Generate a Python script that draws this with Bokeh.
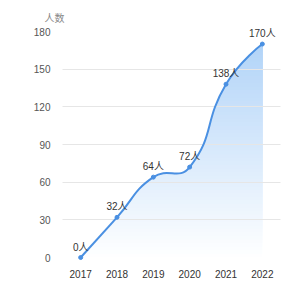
import numpy as np
from bokeh.plotting import figure
from bokeh.models import Range1d, FixedTicker
from bokeh.core.properties import value
from bokeh.embed import file_html
from bokeh.resources import INLINE

# ---- data ----
years = [2017, 2018, 2019, 2020, 2021, 2022]
people = [0, 32, 64, 72, 138, 170]
y_ticks = [0, 30, 60, 90, 120, 150, 180]
unit = "人"
y_title = "人数"

# ---- style ----
W, H = 308, 299
L, R, T, B = 62, 28, 31, 42
FONT = "Liberation Sans, Noto Sans CJK SC"
LINE = "#4a90e2"
TOP_RGB = (178, 212, 248)

x0, x1 = years[0] - 0.5, years[-1] + 0.5
y0, y1 = y_ticks[0], y_ticks[-1]

p = figure(width=W, height=H, output_backend="svg", toolbar_location=None,
           x_range=Range1d(x0, x1), y_range=Range1d(y0, y1),
           min_border_left=L, min_border_right=R, min_border_top=T,
           min_border_bottom=B, title=y_title)
p.outline_line_color = None
p.background_fill_color = "white"
p.border_fill_color = "white"
p.title.align = "left"
p.title.offset = -18
p.title.standoff = 15
p.title.text_font = FONT
p.title.text_font_size = "10px"
p.title.text_font_style = "normal"
p.title.text_color = "#888888"

# scales (screen px per data unit) for ECharts-like smoothing
sx = (W - L - R) / (x1 - x0)
sy = (H - T - B) / (y1 - y0)
px = (np.array(years, float) - x0) * sx
py = (np.array(people, float) - y0) * sy
n = len(px)
smooth = 0.5
cpn = np.zeros((n, 2)); cpp = np.zeros((n, 2))
for i in range(n):
    if 0 < i < n - 1:
        vx = px[i + 1] - px[i - 1]; vy = py[i + 1] - py[i - 1]
        dp = np.hypot(px[i] - px[i - 1], py[i] - py[i - 1])
        dn = np.hypot(px[i + 1] - px[i], py[i + 1] - py[i])
        r = dn / (dn + dp)
        cpn[i] = (px[i] + vx * smooth * r, py[i] + vy * smooth * r)
        cpp[i] = (px[i] - vx * smooth * (1 - r), py[i] - vy * smooth * (1 - r))
    else:
        cpn[i] = (px[i], py[i]); cpp[i] = (px[i], py[i])

def to_x(v): return x0 + v / sx
def to_y(v): return y0 + v / sy

bx0 = to_x(px[:-1]); by0 = to_y(py[:-1])
bx1 = to_x(px[1:]); by1 = to_y(py[1:])
cx0 = to_x(cpn[:-1, 0]); cy0 = to_y(cpn[:-1, 1])
cx1 = to_x(cpp[1:, 0]); cy1 = to_y(cpp[1:, 1])

# sampled outline of the smooth curve for the area fill
t = np.linspace(0, 1, 40)[:, None]
def bez(a, b, c, d):
    return ((1 - t) ** 3) * a + 3 * ((1 - t) ** 2) * t * b + 3 * (1 - t) * t * t * c + t ** 3 * d
cxs = bez(bx0, cx0, cx1, bx1).T.ravel()
cys = bez(by0, cy0, cy1, by1).T.ravel()

# vertical gradient fill via nested areas
top = max(people)
N = 60
for k in range(N):
    lo = top * k / N
    f = (lo + top / N) / top
    col = tuple(int(round(255 + (c - 255) * f)) for c in TOP_RGB)
    p.varea(x=cxs, y1=np.minimum(cys, lo), y2=cys,
            fill_color="#%02x%02x%02x" % col, fill_alpha=1.0)

# smooth line + points + labels on top
p.bezier(x0=bx0, y0=by0, x1=bx1, y1=by1, cx0=cx0, cy0=cy0, cx1=cx1, cy1=cy1,
         line_color=LINE, line_width=2, level="overlay")
p.scatter(years, people, size=4, color=LINE, level="overlay")
p.text(x=years, y=people, text=[f"{v}{unit}" for v in people],
       text_font=value(FONT), text_font_size="10px", text_color="#333333",
       text_align="center", text_baseline="bottom", y_offset=-5, level="overlay")

# axes / grid
p.xaxis.ticker = FixedTicker(ticks=years)
p.yaxis.ticker = FixedTicker(ticks=y_ticks)
for ax in (p.xaxis[0], p.yaxis[0]):
    ax.axis_line_color = None
    ax.major_tick_line_color = None
    ax.minor_tick_line_color = None
    ax.major_label_text_font = FONT
    ax.major_label_text_font_size = "10px"
p.xaxis.major_label_text_color = "#333333"
p.yaxis.major_label_text_color = "#555555"
p.xaxis.major_label_standoff = 6
p.yaxis.major_label_standoff = 6
p.xgrid.grid_line_color = None
p.ygrid.grid_line_color = "#e6e6e6"
p.ygrid.level = "guide"

open("out.html", "w").write(file_html(p, INLINE))
